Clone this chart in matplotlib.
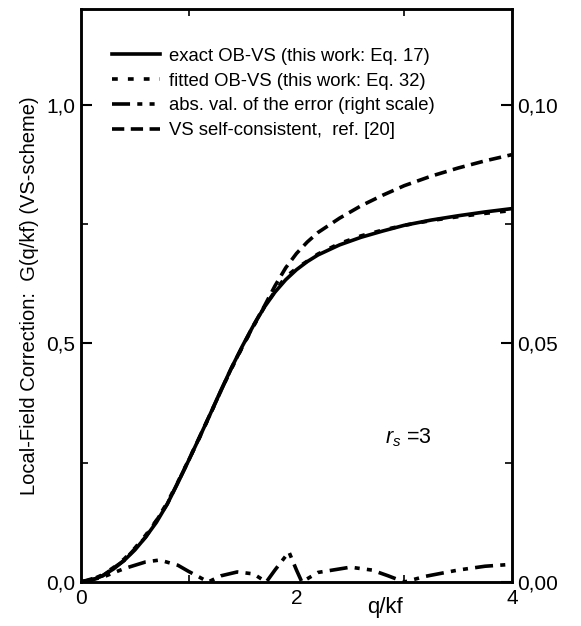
import numpy as np
import matplotlib.pyplot as plt
from matplotlib.ticker import FixedLocator, FuncFormatter
from matplotlib.lines import Line2D

plt.rcParams['font.family'] = ['Liberation Sans', 'DejaVu Sans']
plt.rcParams['mathtext.fontset'] = 'custom'
plt.rcParams['mathtext.rm'] = 'Liberation Sans'
plt.rcParams['mathtext.it'] = 'Liberation Sans:italic'

# exact OB-VS (Eq. 17)
q_exact = [0, 0.1, 0.2, 0.3, 0.4, 0.5, 0.6, 0.7, 0.8, 0.9, 1.0, 1.1, 1.2, 1.3, 1.4,
           1.5, 1.6, 1.7, 1.8, 1.9, 2.0, 2.1, 2.2, 2.4, 2.6, 2.8, 3.0, 3.25, 3.5,
           3.75, 4.0]
g_exact = [0, 0.004, 0.013, 0.027, 0.045, 0.067, 0.094, 0.125, 0.163, 0.208, 0.255,
           0.303, 0.352, 0.402, 0.450, 0.495, 0.537, 0.575, 0.607, 0.633, 0.654,
           0.671, 0.685, 0.706, 0.722, 0.735, 0.747, 0.758, 0.767, 0.775, 0.782]

# fitted OB-VS (Eq. 32), lies on top of the exact curve
g_fitted = [0, 0.005, 0.015, 0.030, 0.048, 0.071, 0.098, 0.129, 0.166, 0.210, 0.256,
            0.302, 0.351, 0.401, 0.448, 0.493, 0.535, 0.575, 0.609, 0.639, 0.657,
            0.672, 0.687, 0.709, 0.725, 0.737, 0.747, 0.757, 0.765, 0.772, 0.778]

# abs. value of the error (right scale)
q_err = [0, 0.2, 0.4, 0.6, 0.73, 0.9, 1.0, 1.1, 1.18, 1.3, 1.45, 1.6, 1.72, 1.8,
         1.93, 2.0, 2.05, 2.2, 2.5, 2.7, 2.85, 3.0, 3.2, 3.5, 3.75, 4.0]
err = [0, 0.0010, 0.0028, 0.0042, 0.0046, 0.0035, 0.0022, 0.0010, 0.0, 0.0013,
       0.0021, 0.0017, 0.0, 0.0025, 0.0063, 0.0025, 0.0, 0.0020, 0.0031, 0.0025,
       0.0013, 0.0, 0.0012, 0.0025, 0.0033, 0.0037]

# VS self-consistent, ref. [20]
q_vs = [0, 0.2, 0.4, 0.6, 0.8, 1.0, 1.2, 1.4, 1.6, 1.7, 1.8, 1.9, 2.0, 2.1, 2.2,
        2.4, 2.6, 2.8, 3.0, 3.25, 3.5, 3.75, 4.0]
g_vs = [0, 0.013, 0.045, 0.094, 0.163, 0.255, 0.352, 0.450, 0.537, 0.577, 0.620,
        0.658, 0.688, 0.712, 0.732, 0.762, 0.788, 0.810, 0.830, 0.850, 0.867,
        0.882, 0.895]

legend_labels = ["exact OB-VS (this work: Eq. 17)",
                 "fitted OB-VS (this work: Eq. 32)",
                 "abs. val. of the error (right scale)",
                 "VS self-consistent,  ref. [20]"]


def comma(v, pos, nd):
    return f"{v:.{nd}f}".replace(".", ",")


fig = plt.figure(figsize=(5.81, 6.26), dpi=100)
ax = fig.add_axes([0.1394, 0.0703, 0.7418, 0.9153])
ax2 = ax.twinx()

LW = 2.6
ls_fit = (0, (1.6, 2.8))
ls_err = (0, (5.0, 2.0, 1.4, 2.0, 1.4, 2.0))
ls_vs = (0, (3.4, 1.8))

ax.plot(q_exact, g_exact, color="black", lw=LW, ls="-")
ax.plot(q_exact, g_fitted, color="black", lw=LW, ls=ls_fit)
ax.plot(q_vs, g_vs, color="black", lw=LW, ls=ls_vs)
ax2.plot(q_err, err, color="black", lw=LW, ls=ls_err)

ax.set_xlim(0, 4)
ax.set_ylim(0, 1.2)
ax2.set_ylim(0, 0.12)

ax.xaxis.set_major_locator(FixedLocator([0, 2, 4]))
ax.xaxis.set_minor_locator(FixedLocator([1, 2, 3]))
ax.xaxis.set_major_formatter(FuncFormatter(lambda v, p: f"{v:g}"))
ax.yaxis.set_major_locator(FixedLocator([0, 0.5, 1.0]))
ax.yaxis.set_minor_locator(FixedLocator([0.25, 0.75]))
ax.yaxis.set_major_formatter(FuncFormatter(lambda v, p: comma(v, p, 1)))
ax2.yaxis.set_major_locator(FixedLocator([0, 0.05, 0.10]))
ax2.yaxis.set_minor_locator(FixedLocator([0.025, 0.075]))
ax2.yaxis.set_major_formatter(FuncFormatter(lambda v, p: comma(v, p, 2)))

ax.tick_params(axis="x", which="major", direction="in", length=0, labelsize=15, pad=5)
ax.tick_params(axis="x", which="minor", direction="in", length=5, width=1.2,
               top=True, bottom=True)
ax.tick_params(axis="y", which="major", direction="in", length=8, width=1.5,
               labelsize=15, pad=4)
ax.tick_params(axis="y", which="minor", direction="in", length=5, width=1.2)
ax2.tick_params(axis="y", which="major", direction="in", length=8, width=1.5,
                labelsize=15, pad=4)
ax2.tick_params(axis="y", which="minor", direction="in", length=5, width=1.2)

for a in (ax, ax2):
    for s in a.spines.values():
        s.set_linewidth(1.8)

ax.set_ylabel("Local-Field Correction:  G(q/kf) (VS-scheme)", fontsize=14.5, labelpad=5)
ax.set_xlabel("q/kf", fontsize=16)
ax.xaxis.set_label_coords(0.705, -0.026)

ax.text(2.82, 0.29, r"$r_s$ =3", fontsize=15.5)

handles = [Line2D([], [], color="black", lw=LW, ls="-"),
           Line2D([], [], color="black", lw=LW, ls=ls_fit),
           Line2D([], [], color="black", lw=LW, ls=ls_err),
           Line2D([], [], color="black", lw=LW, ls=ls_vs)]
ax.legend(handles, legend_labels, loc="upper left", bbox_to_anchor=(0.055, 0.945),
          frameon=False, fontsize=13.3, handlelength=2.6, handletextpad=0.5,
          labelspacing=0.42, borderaxespad=0)

fig.savefig("out.png", dpi=100)
